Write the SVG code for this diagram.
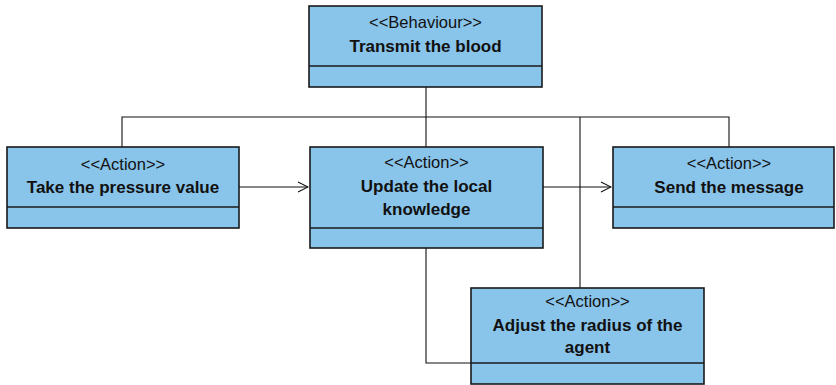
<svg xmlns="http://www.w3.org/2000/svg" width="836" height="385" viewBox="0 0 836 385">
<style>
.box{fill:#89C4EA;stroke:#1a1a1a;stroke-width:1.6}
.div{stroke:#1a1a1a;stroke-width:1.6}
.st{font-family:"Liberation Sans",Arial,sans-serif;font-size:16.5px;fill:#111;text-anchor:middle}
.nm{font-family:"Liberation Sans",Arial,sans-serif;font-size:17px;font-weight:bold;fill:#111;text-anchor:middle}
.c{fill:none;stroke:#111;stroke-width:1.1}
</style>
<defs>
<marker id="arr" markerWidth="12" markerHeight="12" refX="11" refY="6" orient="auto" markerUnits="userSpaceOnUse">
<path d="M1,1 L11,6 L1,11" fill="none" stroke="#111" stroke-width="1.1"/>
</marker>
</defs>
<rect width="836" height="385" fill="#fff"/>
<g id="connectors">
<path class="c" d="M426,87 V147"/>
<path class="c" d="M122,147 V117 H729 V147"/>
<path class="c" d="M580,117 V288"/>
<path class="c" d="M426,248 V363 H471"/>
<path class="c" d="M239,187 H308" marker-end="url(#arr)"/>
<path class="c" d="M543,187 H611" marker-end="url(#arr)"/>
</g>
<g id="behaviour">
<rect class="box" x="309" y="6" width="233" height="81"/>
<line class="div" x1="309" y1="66" x2="542" y2="66"/>
<text class="st" x="425.5" y="28">&lt;&lt;Behaviour&gt;&gt;</text>
<text class="nm" x="425.5" y="52">Transmit the blood</text>
</g>
<g id="take">
<rect class="box" x="7" y="147" width="232" height="81"/>
<line class="div" x1="7" y1="207" x2="239" y2="207"/>
<text class="st" x="123" y="170">&lt;&lt;Action&gt;&gt;</text>
<text class="nm" x="123" y="193">Take the pressure value</text>
</g>
<g id="update">
<rect class="box" x="310" y="147" width="233" height="101"/>
<line class="div" x1="310" y1="228" x2="543" y2="228"/>
<text class="st" x="426.5" y="168">&lt;&lt;Action&gt;&gt;</text>
<text class="nm" x="426.5" y="192">Update the local</text>
<text class="nm" x="426.5" y="215">knowledge</text>
</g>
<g id="send">
<rect class="box" x="613" y="147" width="221" height="81"/>
<line class="div" x1="613" y1="207" x2="834" y2="207"/>
<text class="st" x="729" y="169">&lt;&lt;Action&gt;&gt;</text>
<text class="nm" x="729" y="193">Send the message</text>
</g>
<g id="adjust">
<rect class="box" x="471" y="288" width="233" height="96"/>
<line class="div" x1="471" y1="363" x2="704" y2="363"/>
<text class="st" x="587.5" y="307">&lt;&lt;Action&gt;&gt;</text>
<text class="nm" x="587.5" y="331">Adjust the radius of the</text>
<text class="nm" x="587.5" y="353">agent</text>
</g>
</svg>
